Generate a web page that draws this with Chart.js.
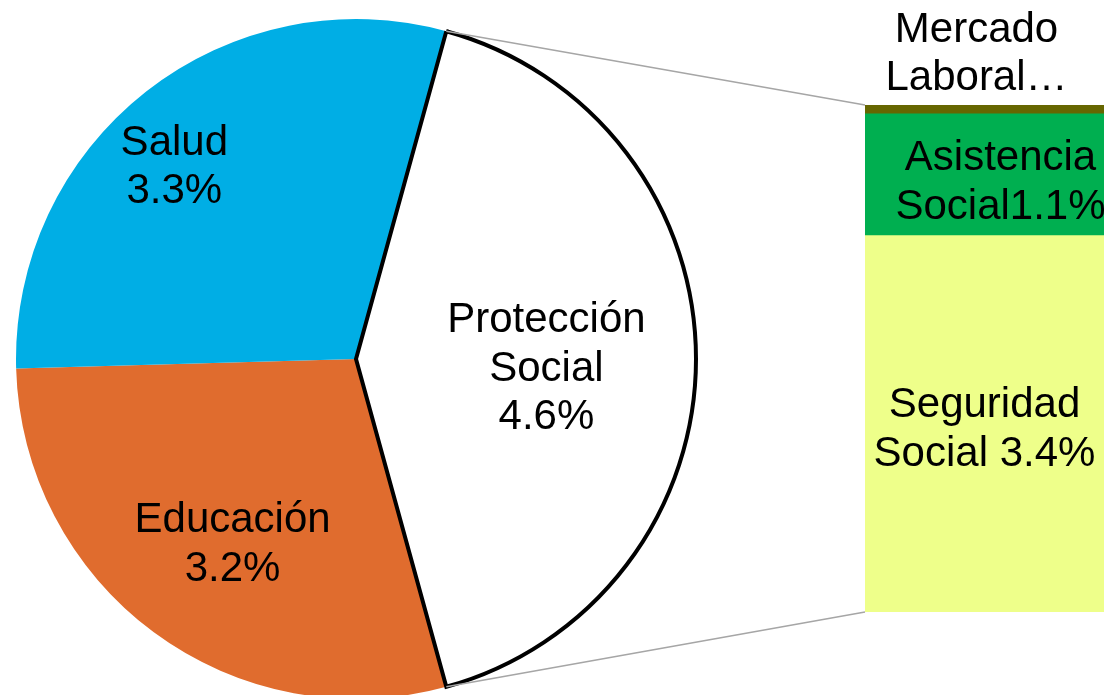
<!DOCTYPE html>
<html><head><meta charset="utf-8">
<script src="https://cdn.jsdelivr.net/npm/chart.js@4.4.0/dist/chart.umd.min.js"></script>
<style>
html,body{margin:0;padding:0;background:#fff;}
#wrap{position:relative;width:1104px;height:695px;overflow:hidden;background:#fff;}
#pie{position:absolute;left:14px;top:17px;}
#bar{position:absolute;left:865px;top:0;}
#lines{position:absolute;left:0;top:0;pointer-events:none;}
</style></head><body>
<div id="wrap">
<canvas id="pie" width="684" height="684"></canvas>
<canvas id="bar" width="239" height="612"></canvas>
<canvas id="lines" width="1104" height="695"></canvas>
</div>
<script>
// ---- data ----
const pieNames = ['Educación', 'Salud', 'Protección Social'];
const pieValues = [3.2, 3.3, 4.6];
const pieLabelText = [['Educación', '3.2%'], ['Salud', '3.3%'], ['Protección', 'Social', '4.6%']];

const barNames = ['Seguridad Social', 'Asistencia Social', 'Mercado Laboral'];
const barValues = [3.4, 1.1, 0.08];
const barLabelText = [['Seguridad', 'Social 3.4%'], ['Asistencia', 'Social1.1%'], ['Mercado', 'Laboral…']];

// ---- styles ----
const pieColors = ['#E06C2E', '#00AEE5', '#FFFFFF'];
const pieBorderColors = ['#FFFFFF', '#FFFFFF', '#000000'];
const pieBorderWidths = [0, 0, 4];
const barColors = ['#EEFF8A', '#00AF50', '#666600'];
const FONT = '42px "Liberation Sans", Arial, sans-serif';
const LINE_H = 48.5;
const TEXT_SHIFT = 2;
const pieLabelPos = [{frac: 0.65, dx: 8, dy: 6}, {frac: 0.78, dx: -18, dy: 15}, {frac: 0.56, dx: 0, dy: 8}];
const barLabelPos = [{anchor: 'center', dx: 0, dy: 4}, {anchor: 'center', dx: 16, dy: 6}, {anchor: 'above', dx: -8, dy: -52.5}];
const PIE_LEFT = 14, PIE_TOP = 17, BAR_LEFT = 865, BAR_TOP = 0;

function drawBlock(ctx, lines, cx, cy) {
  ctx.save();
  ctx.font = FONT;
  ctx.fillStyle = '#000';
  ctx.textAlign = 'center';
  ctx.textBaseline = 'middle';
  const n = lines.length;
  lines.forEach((t, k) => ctx.fillText(t, cx, cy + TEXT_SHIFT + (k - (n - 1) / 2) * LINE_H));
  ctx.restore();
}

const pieLabelPlugin = {
  id: 'pieLabels',
  afterDatasetsDraw(chart) {
    const meta = chart.getDatasetMeta(0);
    meta.data.forEach((arc, i) => {
      const p = arc.getProps(['x', 'y', 'startAngle', 'endAngle', 'outerRadius'], true);
      const mid = (p.startAngle + p.endAngle) / 2;
      const pos = pieLabelPos[i];
      const cx = p.x + Math.cos(mid) * p.outerRadius * pos.frac + pos.dx;
      const cy = p.y + Math.sin(mid) * p.outerRadius * pos.frac + pos.dy;
      drawBlock(chart.ctx, pieLabelText[i], cx, cy);
    });
  }
};

const barLabelPlugin = {
  id: 'barLabels',
  afterDatasetsDraw(chart) {
    barValues.forEach((v, i) => {
      const el = chart.getDatasetMeta(i).data[0];
      const p = el.getProps(['x', 'y', 'base', 'width'], true);
      const pos = barLabelPos[i];
      const top = Math.min(p.y, p.base), bot = Math.max(p.y, p.base);
      const cy = pos.anchor === 'center' ? (top + bot) / 2 + pos.dy : top + pos.dy;
      drawBlock(chart.ctx, barLabelText[i], p.x + pos.dx, cy);
    });
  }
};

const protIdx = pieNames.indexOf('Protección Social');
const pieTotal = pieValues.reduce((a, b) => a + b, 0);
const rotation = 90 + 180 * pieValues[protIdx] / pieTotal;

const pieChart = new Chart(document.getElementById('pie'), {
  type: 'pie',
  data: {
    labels: pieNames,
    datasets: [{
      data: pieValues,
      backgroundColor: pieColors,
      borderColor: pieBorderColors,
      borderWidth: pieBorderWidths,
      hoverBorderWidth: pieBorderWidths,
      borderJoinStyle: 'miter',
      hoverOffset: 0,
      offset: 0
    }]
  },
  options: {
    responsive: false,
    animation: false,
    devicePixelRatio: 1,
    events: [],
    rotation: rotation,
    layout: {padding: 0},
    plugins: {legend: {display: false}, tooltip: {enabled: false}}
  },
  plugins: [pieLabelPlugin]
});

const barTotal = barValues.reduce((a, b) => a + b, 0);
const barChart = new Chart(document.getElementById('bar'), {
  type: 'bar',
  data: {
    labels: ['Protección Social'],
    datasets: barNames.map((name, i) => ({
      label: name,
      data: [barValues[i]],
      backgroundColor: barColors[i],
      borderWidth: 0,
      categoryPercentage: 1,
      barPercentage: 1
    }))
  },
  options: {
    responsive: false,
    animation: false,
    devicePixelRatio: 1,
    events: [],
    layout: {padding: {top: 105, left: 0, right: 0, bottom: 0}},
    scales: {
      x: {display: false, stacked: true},
      y: {display: false, stacked: true, min: 0, max: barTotal}
    },
    plugins: {legend: {display: false}, tooltip: {enabled: false}}
  },
  plugins: [barLabelPlugin]
});

// connector lines
(function () {
  const ctx = document.getElementById('lines').getContext('2d');
  const arc = pieChart.getDatasetMeta(0).data[protIdx];
  const a = arc.getProps(['x', 'y', 'startAngle', 'endAngle', 'outerRadius'], true);
  const p1 = {x: PIE_LEFT + a.x + Math.cos(a.startAngle) * a.outerRadius, y: PIE_TOP + a.y + Math.sin(a.startAngle) * a.outerRadius};
  const p2 = {x: PIE_LEFT + a.x + Math.cos(a.endAngle) * a.outerRadius, y: PIE_TOP + a.y + Math.sin(a.endAngle) * a.outerRadius};
  const topEl = barChart.getDatasetMeta(barValues.length - 1).data[0].getProps(['x', 'y', 'base', 'width'], true);
  const botEl = barChart.getDatasetMeta(0).data[0].getProps(['x', 'y', 'base', 'width'], true);
  const q1 = {x: BAR_LEFT + topEl.x - topEl.width / 2, y: BAR_TOP + Math.min(topEl.y, topEl.base)};
  const q2 = {x: BAR_LEFT + botEl.x - botEl.width / 2, y: BAR_TOP + Math.max(botEl.y, botEl.base)};
  ctx.strokeStyle = '#A6A6A6';
  ctx.lineWidth = 1.5;
  ctx.beginPath();
  ctx.moveTo(p1.x, p1.y); ctx.lineTo(q1.x, q1.y);
  ctx.moveTo(p2.x, p2.y); ctx.lineTo(q2.x, q2.y);
  ctx.stroke();
})();
</script>
</body></html>
